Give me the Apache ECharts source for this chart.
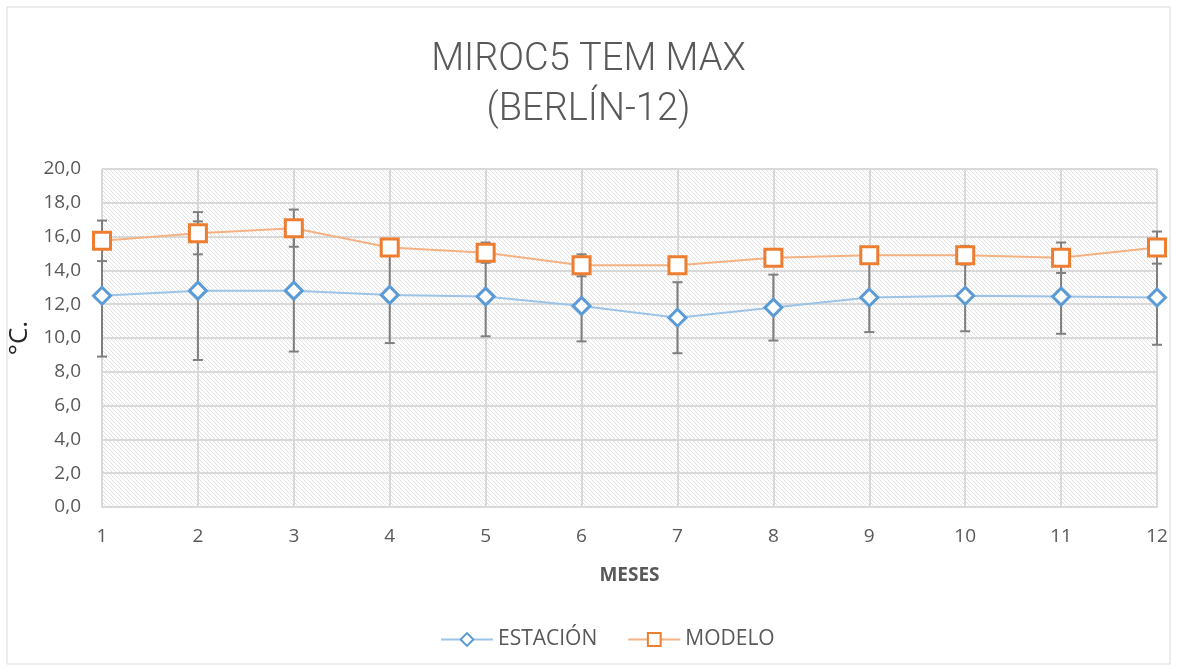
<!DOCTYPE html>
<html>
<head>
<meta charset="utf-8">
<script src="https://cdn.jsdelivr.net/npm/echarts@6/dist/echarts.min.js"></script>
<style>
  html, body { margin: 0; padding: 0; background: #fff; }
  #chart { width: 1177px; height: 670px; }
</style>
</head>
<body>
<div id="chart"></div>
<script>
// Data
const meses = ['1', '2', '3', '4', '5', '6', '7', '8', '9', '10', '11', '12'];
const estacion = [12.5, 12.8, 12.8, 12.55, 12.45, 11.9, 11.2, 11.8, 12.4, 12.5, 12.45, 12.4];
const modelo = [15.75, 16.2, 16.5, 15.35, 15.05, 14.3, 14.3, 14.75, 14.9, 14.9, 14.75, 15.35];
const errEstacion = [3.6, 4.1, 3.6, 2.85, 2.35, 2.1, 2.1, 1.95, 2.05, 2.1, 2.2, 2.8];
const errModelo = [1.2, 1.25, 1.1, 0.4, 0.6, 0.65, 0.3, 0.3, 0.4, 0.55, 0.9, 0.95];
const yTicks = [0, 2, 4, 6, 8, 10, 12, 14, 16, 18, 20];

// Hatched background for the plot area
function hatchPattern() {
  const c = document.createElement('canvas');
  c.width = 4;
  c.height = 4;
  const ctx = c.getContext('2d');
  ctx.fillStyle = '#ffffff';
  ctx.fillRect(0, 0, 4, 4);
  ctx.fillStyle = '#e2e2e2';
  for (let i = 0; i < 4; i++) {
    ctx.fillRect(i, i, 1, 1);
  }
  return c;
}

// Build error bar items [index, low, high]
function errorData(values, errs) {
  return values.map((v, i) => [i, v - errs[i], v + errs[i]]);
}

function renderErrorBar(params, api) {
  const x = api.value(0);
  const low = api.coord([x, api.value(1)]);
  const high = api.coord([x, api.value(2)]);
  const half = 5;
  const style = { stroke: '#7f7f7f', lineWidth: 2 };
  return {
    type: 'group',
    children: [
      { type: 'line', shape: { x1: low[0], y1: low[1], x2: high[0], y2: high[1] }, style: style },
      { type: 'line', shape: { x1: low[0] - half, y1: low[1], x2: low[0] + half, y2: low[1] }, style: style },
      { type: 'line', shape: { x1: high[0] - half, y1: high[1], x2: high[0] + half, y2: high[1] }, style: style }
    ]
  };
}

const chart = echarts.init(document.getElementById('chart'));

const labelColor = '#595959';
const gridColor = '#d9d9d9';

const options = {
  backgroundColor: '#ffffff',
  animation: false,
  title: {
    text: 'MIROC5 TEM MAX\n(BERLÍN-12)',
    left: 'center',
    top: 30,
    textStyle: {
      color: labelColor,
      fontFamily: 'Roboto',
      fontWeight: 300,
      fontSize: 38,
      lineHeight: 50
    }
  },
  graphic: [{
    type: 'rect',
    shape: { x: 7, y: 7, width: 1163, height: 657 },
    style: { fill: 'none', stroke: '#d9d9d9', lineWidth: 1 },
    silent: true
  }],
  legend: {
    top: 624,
    left: 435,
    itemWidth: 52,
    itemHeight: 16,
    itemGap: 30,
    textStyle: { color: labelColor, fontSize: 21, fontFamily: 'Open Sans' },
    data: ['ESTACIÓN', 'MODELO']
  },
  grid: {
    left: 102,
    right: 20,
    top: 169,
    bottom: 163,
    containLabel: false,
    outerBoundsMode: 'none',
    show: true,
    borderWidth: 0,
    backgroundColor: { image: hatchPattern(), repeat: 'repeat' }
  },
  xAxis: {
    type: 'category',
    data: meses,
    boundaryGap: false,
    name: 'MESES',
    nameLocation: 'middle',
    nameGap: 59,
    nameTextStyle: { color: labelColor, fontSize: 19, fontWeight: 'bold', fontFamily: 'Open Sans' },
    axisLine: { lineStyle: { color: gridColor, width: 2 } },
    axisTick: { show: false },
    axisLabel: { color: labelColor, fontSize: 19, margin: 20, fontFamily: 'Open Sans' },
    splitLine: { show: true, lineStyle: { color: gridColor, width: 2 } }
  },
  yAxis: {
    type: 'value',
    min: yTicks[0],
    max: yTicks[yTicks.length - 1],
    interval: 2,
    name: '°C.',
    nameLocation: 'middle',
    nameGap: 67,
    nameTextStyle: { color: '#262626', fontSize: 26, fontFamily: 'Open Sans' },
    axisLine: { show: false },
    axisTick: { show: false },
    axisLabel: {
      color: labelColor,
      fontSize: 19,
      margin: 21,
      fontFamily: 'Open Sans',
      formatter: v => v.toFixed(1).replace('.', ',')
    },
    splitLine: { lineStyle: { color: gridColor, width: 2 } }
  },
  series: [
    {
      type: 'custom',
      name: 'errEstacion',
      renderItem: renderErrorBar,
      data: errorData(estacion, errEstacion),
      z: 1
    },
    {
      type: 'custom',
      name: 'errModelo',
      renderItem: renderErrorBar,
      data: errorData(modelo, errModelo),
      z: 1
    },
    {
      name: 'ESTACIÓN',
      type: 'line',
      data: estacion,
      symbol: 'diamond',
      symbolSize: 17,
      z: 3,
      lineStyle: { color: '#9dc3e6', width: 2 },
      itemStyle: { color: '#ffffff', borderColor: '#5b9bd5', borderWidth: 3 }
    },
    {
      name: 'MODELO',
      type: 'line',
      data: modelo,
      symbol: 'rect',
      symbolSize: 17,
      z: 3,
      lineStyle: { color: '#f4b183', width: 2 },
      itemStyle: { color: '#ffffff', borderColor: '#ed7d31', borderWidth: 3 }
    }
  ]
};

chart.setOption(options);
</script>
</body>
</html>
